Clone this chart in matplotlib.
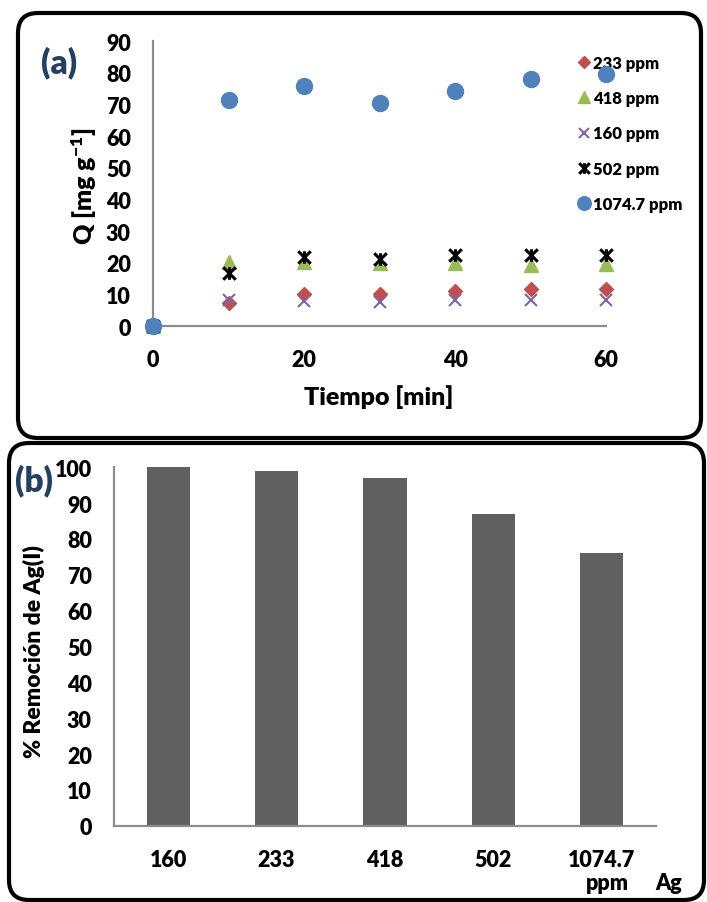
import matplotlib
matplotlib.use("Agg")
import matplotlib.pyplot as plt
from matplotlib.patches import FancyBboxPatch
from matplotlib.path import Path

W_BOLD = 'heavy'
plt.rcParams['font.family'] = ['Lato', 'DejaVu Sans']
plt.rcParams['font.weight'] = W_BOLD
plt.rcParams['mathtext.fontset'] = 'custom'
plt.rcParams['mathtext.rm'] = 'Lato:heavy'
plt.rcParams['mathtext.default'] = 'rm'

# ---- data (a) ----
time_min = [0, 10, 20, 30, 40, 50, 60]
q_233 = [0, 7.3, 10.2, 10.2, 11.1, 11.8, 11.7]
q_418 = [0, 20.3, 20.2, 19.8, 19.8, 19.2, 19.5]
q_160 = [0, 8.2, 8.0, 7.6, 8.1, 8.1, 8.1]
q_502 = [0, 16.9, 21.8, 21.2, 22.4, 22.4, 22.6]
q_1074 = [0, 71.3, 76.0, 70.5, 74.3, 78.1, 79.6]
series_labels = ['233 ppm', '418 ppm', '160 ppm', '502 ppm', '1074.7 ppm']
x_ticks_a = [0, 20, 40, 60]
y_ticks_a = [0, 10, 20, 30, 40, 50, 60, 70, 80, 90]

# ---- data (b) ----
conc_labels = ['160', '233', '418', '502', '1074.7']
removal_pct = [100, 99.1, 97.0, 87.0, 76.0]
y_ticks_b = [0, 10, 20, 30, 40, 50, 60, 70, 80, 90, 100]

W, H = 707, 903
fig = plt.figure(figsize=(W / 100, H / 100), dpi=100)

def fx(x):
    return x / W

def fy(y):
    return 1 - y / H

# Rounded frames (inches)
for (x0, y0, x1, y1) in [(18, 14, 701, 439), (9, 444, 704, 901)]:
    p = FancyBboxPatch((x0 / 100, (H - y1) / 100), (x1 - x0) / 100, (y1 - y0) / 100,
                       boxstyle="round,pad=0,rounding_size=0.2",
                       transform=fig.dpi_scale_trans, fill=False,
                       edgecolor='black', linewidth=3.0, zorder=0)
    fig.add_artist(p)

axis_gray = '#8c8c8c'

# ---- panel (a) ----
axa = fig.add_axes([fx(153), fy(327), fx(606) - fx(153), (327 - 42.3) / H])
axa.set_facecolor('none')
star = Path([(-1, -1), (1, 1), (-1, 1), (1, -1), (0, -1), (0, 1)],
            [Path.MOVETO, Path.LINETO, Path.MOVETO, Path.LINETO, Path.MOVETO, Path.LINETO])

axa.plot(time_min, q_233, linestyle='none', marker='D', ms=7, color='#C0504D',
         label=series_labels[0], clip_on=False, zorder=3)
axa.plot(time_min, q_418, linestyle='none', marker='^', ms=10, color='#9BBB59',
         label=series_labels[1], clip_on=False, zorder=3)
axa.plot(time_min, q_160, linestyle='none', marker='x', ms=9, mew=1.5, color='#8064A2',
         label=series_labels[2], clip_on=False, zorder=3)
axa.plot(time_min, q_502, linestyle='none', marker=star, ms=9, mew=2.2, color='black',
         label=series_labels[3], clip_on=False, zorder=3)
axa.plot(time_min, q_1074, linestyle='none', marker='o', ms=11.5, color='#4F81BD',
         label=series_labels[4], clip_on=False, zorder=6)

axa.set_xlim(0, 60)
axa.set_ylim(0, 90)
axa.set_xticks(x_ticks_a)
axa.set_yticks(y_ticks_a)
for s in ['top', 'right']:
    axa.spines[s].set_visible(False)
for s in ['left', 'bottom']:
    axa.spines[s].set_color(axis_gray)
    axa.spines[s].set_linewidth(1.6)
axa.tick_params(axis='both', length=0, labelsize=15.5)
axa.tick_params(axis='x', pad=16.5)
axa.tick_params(axis='y', pad=16)

leg = axa.legend(loc='upper left', bbox_to_anchor=(fx(577), fy(56)),
                 bbox_transform=fig.transFigure, frameon=False, fontsize=12,
                 handlelength=0.8, handletextpad=0.15, labelspacing=1.15,
                 borderpad=0, borderaxespad=0, markerscale=0.85)
leg.set_zorder(5)

fig.text(fx(84), fy(186), 'Q [mg g$^{-1}$]', rotation=90, ha='center', va='center',
         fontsize=18, fontweight=W_BOLD)
fig.text(fx(379), fy(397), 'Tiempo [min]', ha='center', va='center',
         fontsize=18, fontweight=W_BOLD)
fig.text(fx(59), fy(63), '(a)', ha='center', va='center', fontsize=24,
         fontweight=W_BOLD, color='#243F60')

# ---- panel (b) ----
axb = fig.add_axes([fx(114), fy(826.7), fx(656) - fx(114), (826.7 - 468.3) / H])
axb.set_facecolor('none')
xb = list(range(len(conc_labels)))
axb.bar(xb, removal_pct, width=0.4, color='#606060')
axb.set_xlim(-0.5, len(conc_labels) - 0.5)
axb.set_ylim(0, 100)
axb.set_xticks(xb)
axb.set_xticklabels(conc_labels)
axb.set_yticks(y_ticks_b)
for s in ['top', 'right']:
    axb.spines[s].set_visible(False)
for s in ['left', 'bottom']:
    axb.spines[s].set_color(axis_gray)
    axb.spines[s].set_linewidth(1.6)
axb.tick_params(axis='both', length=0, labelsize=15.5)
axb.tick_params(axis='x', pad=17)
axb.tick_params(axis='y', pad=16)

fig.text(fx(34), fy(652), '% Remoción de Ag(I)', rotation=90, ha='center', va='center',
         fontsize=16.5, fontweight=W_BOLD)
fig.text(fx(607), fy(884), 'ppm', ha='center', va='center', fontsize=15.5,
         fontweight=W_BOLD)
fig.text(fx(669), fy(884), 'Ag', ha='center', va='center', fontsize=15.5,
         fontweight=W_BOLD)
fig.text(fx(34), fy(481), '(b)', ha='center', va='center', fontsize=24,
         fontweight=W_BOLD, color='#243F60')

fig.savefig('out.png', dpi=100)
